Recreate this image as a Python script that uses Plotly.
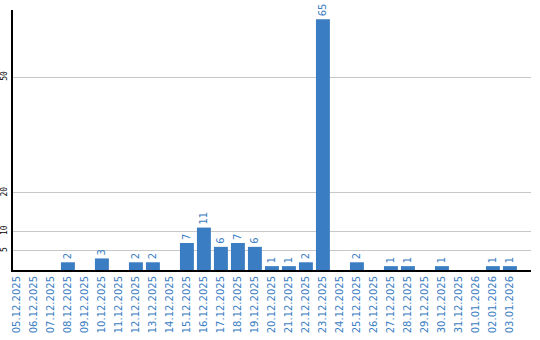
import plotly.graph_objects as go

dates = ["05.12.2025", "06.12.2025", "07.12.2025", "08.12.2025", "09.12.2025",
         "10.12.2025", "11.12.2025", "12.12.2025", "13.12.2025", "14.12.2025",
         "15.12.2025", "16.12.2025", "17.12.2025", "18.12.2025", "19.12.2025",
         "20.12.2025", "21.12.2025", "22.12.2025", "23.12.2025", "24.12.2025",
         "25.12.2025", "26.12.2025", "27.12.2025", "28.12.2025", "29.12.2025",
         "30.12.2025", "31.12.2025", "01.01.2026", "02.01.2026", "03.01.2026"]
values = [0, 0, 0, 2, 0, 3, 0, 2, 2, 0,
          7, 11, 6, 7, 6, 1, 1, 2, 65, 0,
          2, 0, 1, 1, 0, 1, 0, 0, 1, 1]
y_ticks = [5, 10, 20, 50]

blue = "#3a7dc2"
labels = [str(v) if v else "" for v in values]

fig = go.Figure(go.Bar(
    x=dates, y=values, text=labels, textposition="outside", textangle=-90,
    textfont=dict(color=blue, size=10, family="DejaVu Sans"),
    marker=dict(color=blue, line=dict(width=0)), cliponaxis=False,
    hoverinfo="skip",
))

fig.update_layout(
    width=540, height=340,
    margin=dict(l=13, r=9, t=10, b=70),
    paper_bgcolor="white", plot_bgcolor="white",
    bargap=0.18, showlegend=False,
)
fig.update_xaxes(
    type="category", range=[-0.23, 30.24], tickangle=-90,
    tickfont=dict(color=blue, size=10, family="DejaVu Sans"),
    showgrid=False, showline=True, linecolor="black", linewidth=2,
    ticks="", automargin=False,
)
fig.update_yaxes(
    range=[0, 67.4], tickvals=y_ticks, ticktext=[str(t) for t in y_ticks],
    tickangle=-90, tickfont=dict(color="black", size=8, family="DejaVu Sans Mono"),
    showgrid=True, gridcolor="#c8c8c8", gridwidth=1,
    showline=True, linecolor="black", linewidth=2, zeroline=False,
    ticks="", automargin=False, ticklabelstandoff=1,
)

fig.write_html("out.html")
